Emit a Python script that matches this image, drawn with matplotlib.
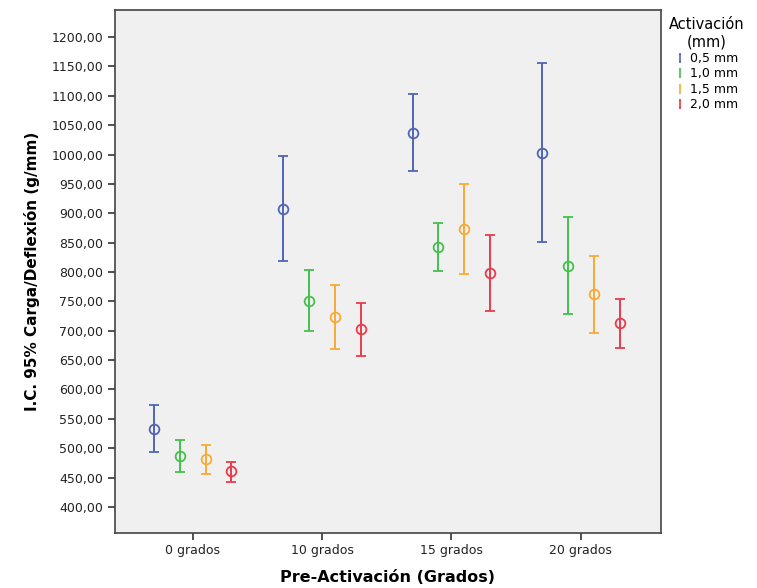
import numpy as np
import matplotlib.pyplot as plt
from matplotlib.lines import Line2D
from matplotlib.path import Path
from matplotlib.ticker import FuncFormatter

# Datos (media e IC 95 %)
grupos = ['0 grados', '10 grados', '15 grados', '20 grados']
series = ['0,5 mm', '1,0 mm', '1,5 mm', '2,0 mm']

media = {
    '0,5 mm': [533.3, 907.7, 1037.1, 1003.1],
    '1,0 mm': [486.8, 750.6, 843.1, 810.2],
    '1,5 mm': [481.2, 723.9, 872.7, 762.6],
    '2,0 mm': [460.8, 702.5, 797.8, 712.7],
}
ic_sup = {
    '0,5 mm': [573.6, 997.4, 1103.0, 1156.3],
    '1,0 mm': [513.5, 802.9, 883.9, 893.1],
    '1,5 mm': [506.1, 778.4, 949.3, 827.2],
    '2,0 mm': [476.1, 746.7, 862.5, 753.5],
}
ic_inf = {
    '0,5 mm': [493.6, 818.7, 971.4, 850.6],
    '1,0 mm': [459.6, 699.1, 801.2, 728.5],
    '1,5 mm': [456.2, 669.5, 796.1, 696.7],
    '2,0 mm': [443.1, 656.5, 734.1, 670.6],
}

colores = ['#4f66b4', '#45c04e', '#f9aa35', '#ea3b4c']
desplaz = [-0.3, -0.1, 0.1, 0.3]

fig = plt.figure(figsize=(7.57, 5.88), dpi=100)
ax = fig.add_axes([115 / 757, 55 / 588, 546 / 757, 523 / 588])
ax.set_facecolor('#f0f0f0')

x = np.arange(len(grupos))
for s, c, d in zip(series, colores, desplaz):
    m = np.array(media[s])
    sup = np.array(ic_sup[s])
    inf = np.array(ic_inf[s])
    ax.errorbar(x + d, m, yerr=[m - inf, sup - m], fmt='o', mfc='none',
                mec=c, ecolor=c, ms=7, mew=1.3, elinewidth=1.4,
                capsize=3.5, capthick=1.4)

ax.set_xlim(-0.6, 3.62)
ax.set_ylim(355.7, 1246)
ax.set_xticks(x)
ax.set_xticklabels(grupos, fontsize=9)
ax.set_yticks(np.arange(400, 1201, 50))
ax.yaxis.set_major_formatter(FuncFormatter(lambda v, p: f'{v:.2f}'.replace('.', ',')))
ax.tick_params(axis='y', labelsize=9, length=5, width=1.2, colors='#333333',
               labelcolor='#222222')
ax.tick_params(axis='x', length=5, width=1.2, colors='#333333',
               labelcolor='#222222', pad=3)
for sp in ax.spines.values():
    sp.set_color('#444444')
    sp.set_linewidth(1.2)

ax.set_xlabel('Pre-Activación (Grados)', fontsize=11.5, fontweight='bold', labelpad=9)
ax.set_ylabel('I.C. 95% Carga/Deflexión (g/mm)', fontsize=11, fontweight='bold', labelpad=8)

# Leyenda a la derecha, símbolo en forma de barra de error
marca_i = Path([(-0.35, 1), (0.35, 1), (0, 1), (0, -1), (-0.35, -1), (0.35, -1)],
               [Path.MOVETO, Path.LINETO, Path.MOVETO, Path.LINETO,
                Path.MOVETO, Path.LINETO])
handles = [Line2D([], [], ls='none', marker=marca_i, color=c, ms=6, mew=1.2,
                  mfc='none') for c in colores]
leg = fig.legend(handles, series, title='Activación\n(mm)', loc='upper left',
                 bbox_to_anchor=(664 / 757, 1 - 12 / 588), frameon=False,
                 fontsize=9, title_fontsize=10.5, handlelength=0.8,
                 handletextpad=0.4, labelspacing=0.2, borderaxespad=0)
leg.get_title().set_multialignment('center')

fig.savefig('out.png', dpi=100)
